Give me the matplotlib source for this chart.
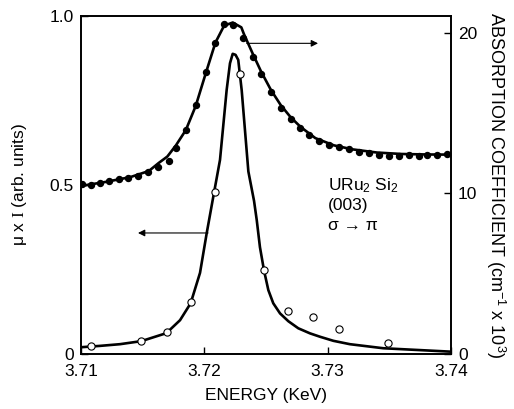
import matplotlib
matplotlib.use("Agg")
import matplotlib.pyplot as plt

plt.rcParams['font.family'] = ['Liberation Sans', 'DejaVu Sans']
plt.rcParams['mathtext.fontset'] = 'custom'
plt.rcParams['mathtext.rm'] = 'Liberation Sans'
plt.rcParams['mathtext.it'] = 'Liberation Serif'

# Open circles: mu x I (left axis)
open_E = [3.7108, 3.7149, 3.7170, 3.7189, 3.7209, 3.7229, 3.7248, 3.7268, 3.7288, 3.7309, 3.7349]
open_v = [0.023, 0.038, 0.064, 0.154, 0.480, 0.829, 0.247, 0.127, 0.110, 0.075, 0.032]

# Solid fit curve for mu x I
fitL_E = [3.7100, 3.71154, 3.71316, 3.71489, 3.71695, 3.71722, 3.71803, 3.71889, 3.71965,
          3.72019, 3.72070, 3.72127, 3.72181, 3.72208, 3.72230, 3.72253, 3.72275, 3.72303,
          3.72330, 3.72357, 3.72403, 3.72425, 3.72451, 3.72484, 3.72519, 3.72559, 3.72614,
          3.72681, 3.72762, 3.72857, 3.72938, 3.73046, 3.73180, 3.73451, 3.73992]
fitL_v = [0.020, 0.024, 0.029, 0.038, 0.062, 0.072, 0.100, 0.150, 0.240,
          0.357, 0.460, 0.574, 0.781, 0.860, 0.888, 0.885, 0.870, 0.780,
          0.660, 0.540, 0.453, 0.396, 0.316, 0.247, 0.189, 0.150, 0.120,
          0.097, 0.076, 0.061, 0.051, 0.039, 0.029, 0.017, 0.007]

# Filled dots: absorption coefficient (right axis, cm^-1 x 10^3)
abs_E = [3.71006, 3.71079, 3.71154, 3.71227, 3.71306, 3.71384, 3.71460, 3.71541, 3.71622,
         3.71711, 3.71768, 3.71849, 3.71930, 3.72011, 3.72087, 3.72161, 3.72231, 3.72316,
         3.72392, 3.72462, 3.72538, 3.72619, 3.72705, 3.72776, 3.72851, 3.72927, 3.73008,
         3.73090, 3.73171, 3.73252, 3.73333, 3.73414, 3.73495, 3.73576, 3.73657, 3.73738,
         3.73808, 3.73884, 3.73965]
abs_v = [10.59, 10.55, 10.64, 10.76, 10.88, 10.98, 11.11, 11.32, 11.63,
         12.04, 12.85, 13.96, 15.51, 17.57, 19.36, 20.54, 20.50, 19.67,
         18.49, 17.43, 16.31, 15.31, 14.66, 14.06, 13.64, 13.29, 13.02,
         12.90, 12.77, 12.60, 12.50, 12.42, 12.36, 12.36, 12.38, 12.36,
         12.38, 12.42, 12.44]

# Solid fit curve for absorption coefficient
fitR_E = [3.7100, 3.7120, 3.7140, 3.7155, 3.7163, 3.7170, 3.7177, 3.7185, 3.7193, 3.7201,
          3.7209, 3.7216, 3.7223, 3.7230, 3.7232, 3.7239, 3.7246, 3.7254, 3.7262, 3.7270,
          3.7278, 3.7290, 3.7305, 3.7320, 3.7340, 3.7360, 3.7380, 3.7400]
fitR_v = [10.47, 10.72, 11.02, 11.40, 11.90, 12.30, 13.00, 13.95, 15.45, 17.45,
          19.40, 20.45, 20.65, 20.35, 19.95, 18.75, 17.60, 16.45, 15.50, 14.75,
          14.15, 13.45, 13.00, 12.75, 12.55, 12.46, 12.43, 12.42]

xticks = [3.71, 3.72, 3.73, 3.74]
xtick_labels = ['3.71', '3.72', '3.73', '3.74']
yticks_left = [0, 0.5, 1.0]
ytick_labels_left = ['0', '0.5', '1.0']
yticks_right = [0, 10, 20]
ytick_labels_right = ['0', '10', '20']

fig = plt.figure(figsize=(5.14, 4.09), dpi=100)
ax = fig.add_axes([0.1576, 0.1345, 0.7198, 0.8265])
ax2 = ax.twinx()

ax.plot(fitL_E, fitL_v, color='black', lw=1.9, solid_joinstyle='round', zorder=2)
ax.plot(open_E, open_v, 'o', ms=5.2, mfc='white', mec='black', mew=0.8, zorder=3)
ax2.plot(fitR_E, fitR_v, color='black', lw=1.9, solid_joinstyle='round', zorder=2)
ax2.plot(abs_E, abs_v, 'o', ms=4.3, color='black', zorder=3)

ax.set_xlim(3.71, 3.74)
ax.set_ylim(0, 1.0)
ax2.set_ylim(0, 21.06)

ax.set_xticks(xticks)
ax.set_xticklabels(xtick_labels)
ax.set_yticks(yticks_left)
ax.set_yticklabels(ytick_labels_left)
ax2.set_yticks(yticks_right)
ax2.set_yticklabels(ytick_labels_right)

for a in (ax, ax2):
    a.tick_params(direction='in', length=5, width=1.0, labelsize=12.5, pad=5)
    for s in a.spines.values():
        s.set_linewidth(1.2)
ax.tick_params(axis='x', pad=7)

ax.set_xlabel('ENERGY (KeV)', fontsize=12.5, labelpad=7)
ax.set_ylabel('μ x $\\mathit{I}$ (arb. units)', fontsize=12.5, labelpad=15)
ax2.set_ylabel('ABSORPTION COEFFICIENT (cm$^{-1}$ x 10$^{3}$)', fontsize=13,
               rotation=-90, labelpad=22)

# arrows
ax.annotate('', xy=(3.71462, 0.358), xytext=(3.72030, 0.358),
            arrowprops=dict(arrowstyle='-|>', color='black', lw=0.8,
                            mutation_scale=10, shrinkA=0, shrinkB=0))
ax.annotate('', xy=(3.72922, 0.919), xytext=(3.72344, 0.919),
            arrowprops=dict(arrowstyle='-|>', color='black', lw=0.8,
                            mutation_scale=10, shrinkA=0, shrinkB=0))

ax.text(3.73, 0.497, 'URu$_2$ Si$_2$', fontsize=12.5, ha='left', va='center')
ax.text(3.73, 0.438, '(003)', fontsize=12.5, ha='left', va='center')
ax.text(3.73, 0.380, 'σ → π', fontsize=12.5, ha='left', va='center')

fig.savefig('out.png', dpi=100)
